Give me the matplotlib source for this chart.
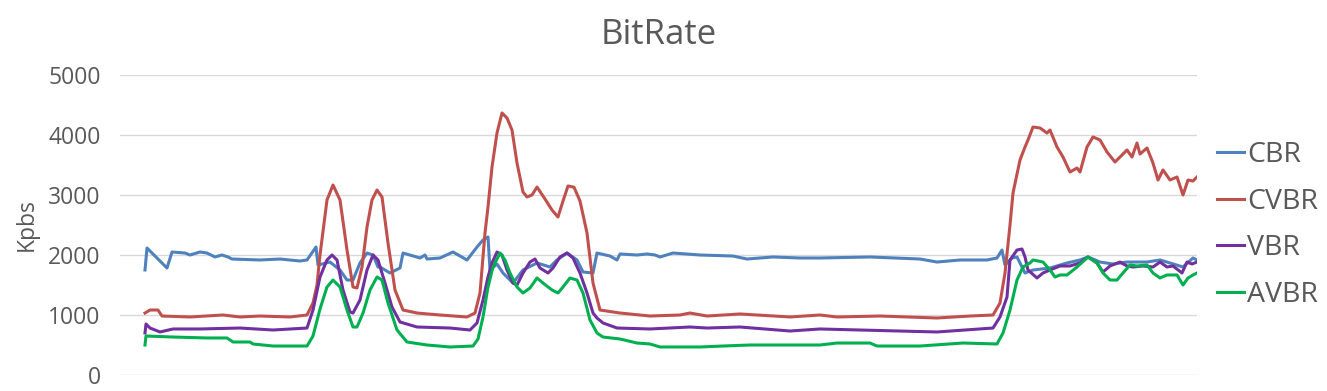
import matplotlib
matplotlib.use("Agg")
import matplotlib.pyplot as plt

# ---- data (frame index, bitrate in Kbps) ----
cbr_t = [0, 2, 22, 27, 40, 45, 55, 62, 70, 77, 83, 87, 115, 135, 155, 162, 171, 173, 185, 195, 202, 208, 215, 222,
         228, 233, 235, 245, 255, 258, 275, 280, 282, 295, 308, 322, 332, 338, 343, 345, 352, 358, 368, 378, 392,
         405, 412, 422, 432, 438, 448, 452, 465, 472, 475, 492, 502, 510, 515, 528, 555, 588, 602, 628, 655, 675,
         725, 775, 792, 815, 842, 852, 857, 860, 867, 872, 880, 888, 905, 922, 935, 943, 955, 968, 982, 1002, 1015,
         1025, 1038, 1048, 1052]
cbr_v = [1750, 2117, 1783, 2050, 2033, 2000, 2050, 2033, 1967, 2000, 1967, 1933, 1917, 1933, 1900, 1917, 2133,
         1833, 1883, 1750, 1583, 1583, 1867, 2033, 2000, 1800, 1800, 1700, 1783, 2033, 1950, 2000, 1933, 1950, 2050,
         1917, 2133, 2250, 2300, 1750, 1850, 1700, 1533, 1750, 1867, 1800, 1917, 2033, 1917, 1717, 1700, 2033, 1983,
         1917, 2017, 2000, 2017, 2000, 1967, 2033, 2000, 1983, 1933, 1967, 1950, 1950, 1967, 1933, 1883, 1917, 1917,
         1950, 2083, 1833, 1950, 1967, 1700, 1750, 1783, 1867, 1917, 1967, 1883, 1850, 1883, 1883, 1917, 1867, 1800,
         1950, 1917]

cvbr_t = [0, 5, 13, 17, 45, 78, 95, 115, 145, 162, 168, 172, 175, 182, 188, 195, 202, 208, 212, 217, 222, 227,
          232, 237, 243, 250, 258, 272, 295, 322, 330, 335, 340, 343, 347, 352, 357, 362, 367, 372, 378, 382, 387,
          392, 400, 407, 413, 418, 423, 429, 435, 442, 448, 455, 475, 505, 535, 545, 562, 595, 645, 675, 692, 735,
          792, 825, 848, 855, 860, 865, 868, 875, 880, 883, 888, 895, 902, 905, 912, 918, 925, 932, 935, 942, 948,
          955, 962, 970, 975, 982, 987, 992, 995, 1002, 1008, 1013, 1018, 1025, 1032, 1038, 1043, 1048, 1052]
cvbr_v = [1033, 1083, 1083, 983, 967, 1000, 967, 983, 967, 1000, 1200, 1500, 2000, 2917, 3167, 2917, 2083, 1467,
          1450, 1800, 2467, 2917, 3083, 2967, 2200, 1417, 1083, 1033, 1000, 967, 1033, 1367, 2367, 2800, 3467, 4033,
          4367, 4283, 4083, 3533, 3050, 2967, 3000, 3133, 2933, 2750, 2633, 2900, 3150, 3130, 2900, 2367, 1533, 1083,
          1033, 983, 1000, 1033, 983, 1017, 967, 1000, 967, 983, 950, 983, 1000, 1200, 1700, 2500, 3033, 3583, 3800,
          3917, 4133, 4117, 4033, 4083, 3800, 3633, 3383, 3450, 3383, 3800, 3967, 3917, 3717, 3550, 3633, 3750, 3633,
          3867, 3683, 3783, 3533, 3250, 3417, 3250, 3300, 3000, 3250, 3233, 3300]

vbr_t = [0, 1, 5, 15, 28, 55, 95, 128, 162, 168, 175, 182, 187, 192, 198, 205, 208, 215, 222, 228, 233, 240, 247,
         255, 272, 305, 325, 332, 338, 343, 347, 352, 357, 362, 368, 372, 378, 385, 390, 395, 403, 408, 415, 422,
         428, 435, 442, 448, 452, 458, 472, 505, 545, 562, 595, 645, 675, 792, 848, 855, 862, 865, 872, 877, 880,
         883, 892, 898, 905, 915, 925, 935, 943, 952, 958, 965, 975, 982, 988, 998, 1008, 1015, 1022, 1028, 1037,
         1042, 1047, 1052]
vbr_v = [700, 850, 783, 717, 767, 767, 783, 750, 783, 1083, 1633, 1917, 2000, 1917, 1417, 1050, 1033, 1250, 1750,
         2000, 1917, 1533, 1133, 883, 800, 783, 750, 867, 1250, 1633, 1867, 2050, 2000, 1750, 1533, 1500, 1700, 1883,
         1933, 1783, 1700, 1783, 1967, 2033, 1950, 1700, 1367, 1033, 950, 867, 783, 767, 800, 783, 800, 733, 767, 717,
         783, 967, 1300, 1917, 2083, 2100, 1967, 1750, 1617, 1700, 1750, 1817, 1817, 1867, 1967, 1867, 1717, 1817,
         1883, 1817, 1800, 1817, 1800, 1883, 1800, 1817, 1700, 1883, 1850, 1883]

avbr_t = [0, 1, 28, 62, 82, 88, 105, 108, 128, 162, 168, 175, 182, 188, 195, 202, 208, 212, 218, 225, 232, 237, 243,
          252, 262, 282, 305, 328, 333, 338, 343, 348, 355, 360, 365, 372, 378, 385, 392, 398, 407, 413, 418, 425,
          432, 438, 445, 452, 458, 475, 492, 505, 515, 555, 578, 605, 675, 692, 725, 732, 775, 818, 852, 858, 865,
          872, 878, 885, 888, 898, 905, 910, 915, 922, 932, 943, 952, 958, 965, 972, 978, 985, 992, 1002, 1008, 1015,
          1022, 1032, 1038, 1043, 1048, 1052]
avbr_v = [500, 650, 633, 617, 617, 550, 550, 517, 483, 483, 650, 1100, 1467, 1583, 1467, 1083, 800, 800, 1033, 1417,
          1633, 1583, 1200, 750, 550, 500, 467, 483, 600, 967, 1467, 1800, 2033, 1917, 1700, 1467, 1367, 1450, 1617,
          1533, 1417, 1367, 1467, 1617, 1583, 1367, 917, 700, 633, 600, 533, 517, 467, 467, 483, 500, 500, 533, 533,
          483, 483, 533, 517, 700, 1083, 1583, 1800, 1867, 1917, 1883, 1750, 1633, 1667, 1667, 1800, 1967, 1867,
          1700, 1583, 1583, 1700, 1833, 1817, 1833, 1700, 1617, 1667, 1667, 1500, 1617, 1667, 1700]

labels = ["CBR", "CVBR", "VBR", "AVBR"]
colors = ["#4F81BD", "#C0504D", "#7030A0", "#00B050"]
yticks = [0, 1000, 2000, 3000, 4000, 5000]

plt.rcParams['font.family'] = ['Open Sans', 'DejaVu Sans']

fig = plt.figure(figsize=(13.27, 3.91), dpi=100)
ax = fig.add_axes([120 / 1327, 1 - 375 / 391, (1197 - 120) / 1327, (375 - 75) / 391])

series = [(cbr_t, cbr_v), (cvbr_t, cvbr_v), (vbr_t, vbr_v), (avbr_t, avbr_v)]
for (t, v), lab, col in zip(series, labels, colors):
    ax.plot(t, v, color=col, lw=2.2, label=lab, solid_joinstyle='round')

ax.set_ylim(0, 5000)
ax.set_xlim(-25, 1052)
ax.set_yticks(yticks)
ax.set_xticks([])
ax.grid(axis='y', color='#D9D9D9', lw=1.0)
ax.set_axisbelow(True)
for s in ax.spines.values():
    s.set_visible(False)
ax.tick_params(axis='y', length=0, pad=14, labelsize=16.5, labelcolor='#595959')
ax.set_ylabel("Kpbs", fontsize=16.5, color='#595959', labelpad=7)
ax.set_title("BitRate", fontsize=25, color='#595959', pad=22)

leg = ax.legend(loc='center left', bbox_to_anchor=(1.008, 0.5), frameon=False, fontsize=20.5,
                handlelength=0.95, handletextpad=0.1, labelspacing=0.66, borderaxespad=0)
for txt in leg.get_texts():
    txt.set_color('#595959')

fig.savefig("out.png", dpi=100)
